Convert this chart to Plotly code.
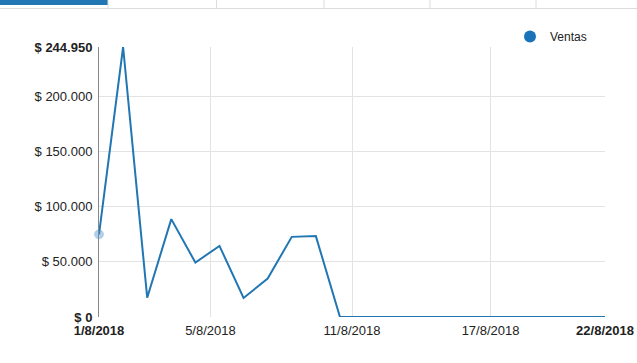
import plotly.graph_objects as go

dates = [f"2018-08-{d:02d}" for d in range(1, 23)]
ventas = [75000, 244950, 17500, 88800, 49400, 64500, 17300, 34900, 72700, 73400,
          0, 0, 0, 0, 0, 0, 0, 0, 0, 0, 0, 0]
series_name = "Ventas"

x_tick_vals = ["2018-08-01", "2018-08-05 15:00", "2018-08-11 12:00", "2018-08-17 06:00", "2018-08-22"]
x_tick_text = ["<b>1/8/2018</b>", "5/8/2018", "11/8/2018", "17/8/2018", "<b>22/8/2018</b>"]
y_tick_vals = [0, 50000, 100000, 150000, 200000, 244950]
y_tick_text = ["<b>$ 0</b>", "$ 50.000", "$ 100.000", "$ 150.000", "$ 200.000", "<b>$ 244.950</b>"]

BLUE = "#2077b4"
W, H = 637, 363
L, R, T, B = 99, 32, 47, 46
pw, ph = W - L - R, H - T - B

def px(x):
    return (x - L) / pw

def py(y):
    return (H - B - y) / ph

fig = go.Figure()
fig.add_trace(go.Scatter(
    x=dates, y=ventas, mode="lines+markers", showlegend=False,
    line=dict(color=BLUE, width=2),
    marker=dict(size=[9] + [0] * (len(ventas) - 1), color="rgba(70,145,215,0.6)",
                line=dict(width=1, color="rgba(70,145,215,0.4)")),
    cliponaxis=False,
))
fig.add_trace(go.Scatter(
    x=[None], y=[None], mode="markers", name=series_name,
    marker=dict(size=12, color="#1a72b8"),
))

shapes = []
# top tab strip
shapes.append(dict(type="line", xref="paper", yref="paper", x0=px(0), x1=px(637),
                   y0=py(8.5), y1=py(8.5), line=dict(color="#dcdcdc", width=1)))
shapes.append(dict(type="rect", xref="paper", yref="paper", x0=px(0), x1=px(108),
                   y0=py(0), y1=py(5), fillcolor=BLUE, line=dict(width=0)))
for sx in [108, 216.5, 324, 430, 536]:
    shapes.append(dict(type="line", xref="paper", yref="paper", x0=px(sx), x1=px(sx),
                       y0=py(0), y1=py(8.5), line=dict(color="#dcdcdc", width=1)))

fig.update_layout(
    width=W, height=H,
    margin=dict(l=L, r=R, t=T, b=B, autoexpand=False),
    paper_bgcolor="white", plot_bgcolor="white",
    font=dict(family="Liberation Sans, Arial, sans-serif", size=13, color="#222222"),
    shapes=shapes,
    showlegend=True,
    legend=dict(x=px(510), y=py(22), xanchor="left", yanchor="top",
                bgcolor="rgba(0,0,0,0)", font=dict(size=12, color="#222222"),
                itemwidth=30, tracegroupgap=0),
    xaxis=dict(
        range=["2018-08-01", "2018-08-22"],
        tickmode="array", tickvals=x_tick_vals, ticktext=x_tick_text,
        showgrid=True, gridcolor="#e3e3e3", gridwidth=1,
        showline=False, zeroline=False, ticks="", ticklabelstandoff=4,
        tickfont=dict(size=13, color="#222222"),
    ),
    yaxis=dict(
        range=[0, 244950],
        tickmode="array", tickvals=y_tick_vals, ticktext=y_tick_text,
        showgrid=True, gridcolor="#e3e3e3", gridwidth=1,
        showline=True, linecolor="#888888", linewidth=1,
        zeroline=False, ticks="", ticklabelstandoff=3,
        tickfont=dict(size=13, color="#222222"),
    ),
)

fig.write_html("out.html")
